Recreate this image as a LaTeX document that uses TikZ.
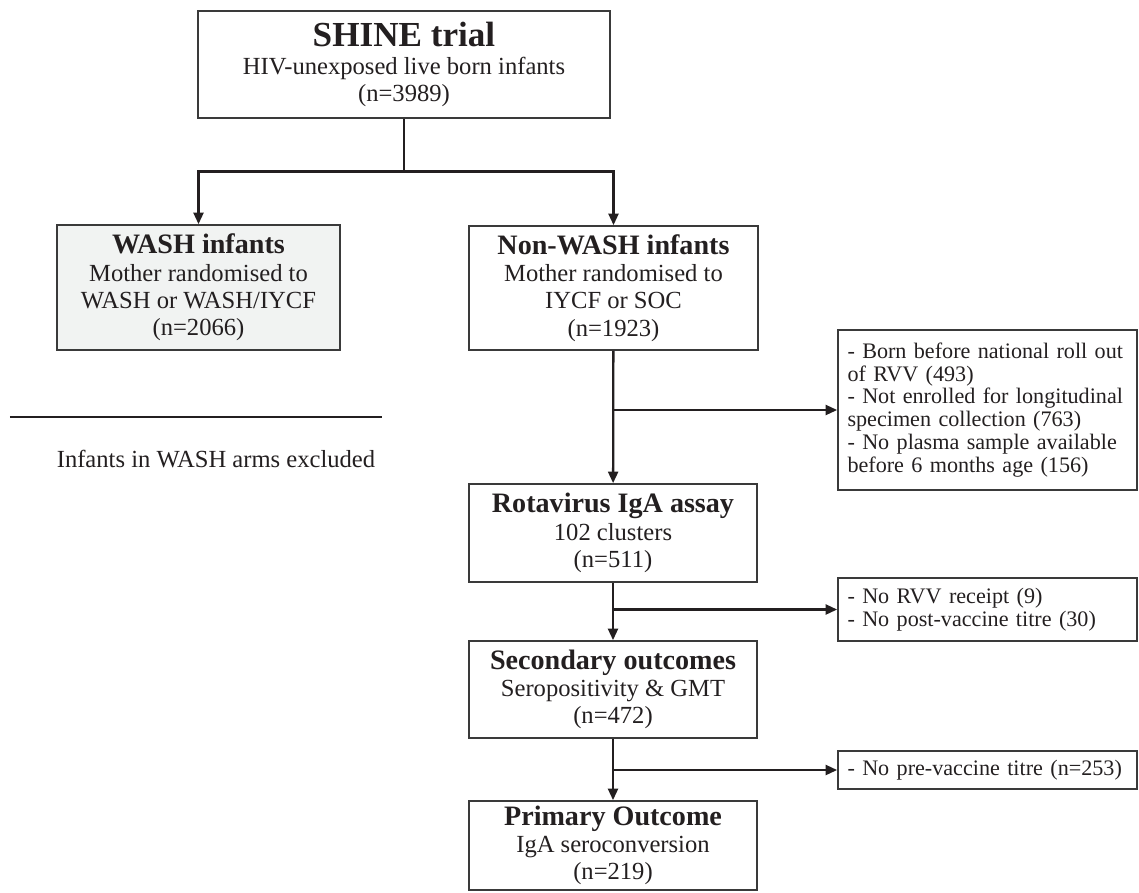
\documentclass[tikz,border=0pt]{standalone}
\usepackage{fontspec}
\setmainfont{Liberation Serif}
\usetikzlibrary{arrows.meta,positioning,calc}
\definecolor{ink}{HTML}{231F20}
\definecolor{boxline}{HTML}{3A3A3A}
\definecolor{washfill}{HTML}{F1F3F2}
\newcommand{\boxtitle}[1]{{\fontsize{16}{17}\selectfont\bfseries #1}}
\tikzset{flowbox/.style={draw=boxline,line width=1pt,text=ink,align=center,inner sep=0pt,minimum width=5.76cm,font=\fontsize{14}{15.5}\selectfont},exclbox/.style={draw=boxline,line width=1pt,text=ink,align=left,text width=5.6cm,inner xsep=0.19cm,inner ysep=0pt,font=\fontsize{12.6}{13}\selectfont},flowarr/.style={-{Triangle[length=2.3mm,width=2mm]},line width=1.3pt,draw=ink},flowline/.style={line width=1.3pt,draw=ink}}
\begin{document}
\begin{tikzpicture}
\useasboundingbox (0,0) rectangle (22.78,-17.84);
\node[flowbox,minimum width=8.24cm,minimum height=2.14cm] (shine) at (8.08,-1.29) {{\fontsize{20}{22}\selectfont\bfseries SHINE trial}\\HIV-unexposed live born infants\\(n=3989)};
\node[flowbox,fill=washfill,minimum width=5.66cm,minimum height=2.5cm] (wash) at (3.97,-5.75) {\boxtitle{WASH infants}\\Mother randomised to\\WASH or WASH/IYCF\\(n=2066)};
\node[flowbox,minimum width=5.78cm,minimum height=2.48cm] (nonwash) at (12.27,-5.76) {\boxtitle{Non-WASH infants}\\Mother randomised to\\IYCF or SOC\\(n=1923)};
\coordinate (split) at (8.08,-3.43);
\draw[flowline] (shine.south) -- (split);
\draw[flowarr] (split) -| (wash.north);
\draw[flowarr] (split) -| (nonwash.north);
% WASH arms are left out
\coordinate (rulel) at (0.2,-8.34);
\coordinate (ruler) at (7.64,-8.34);
\draw[draw=ink,line width=0.8pt] (rulel) -- (ruler);
\node[text=ink,font=\fontsize{14}{15}\selectfont] (washout) at (4.32,-9.18) {Infants in WASH arms excluded};
% main column
\node[flowbox,minimum height=1.96cm] (rota) at (12.26,-10.66) {\boxtitle{Rotavirus IgA assay}\\102 clusters\\(n=511)};
\node[flowbox,minimum height=1.94cm] (second) at (12.26,-13.79) {\boxtitle{Secondary outcomes}\\Seropositivity \& GMT\\(n=472)};
\node[flowbox,minimum height=1.78cm] (primary) at (12.26,-16.91) {\boxtitle{Primary Outcome}\\IgA seroconversion\\(n=219)};
% exclusions
\node[exclbox,minimum height=3.2cm] (excl1) at (19.75,-8.2) {- Born before national roll out\\of RVV (493)\\- Not enrolled for longitudinal\\specimen collection (763)\\- No plasma sample available\\before 6 months age (156)};
\node[exclbox,minimum height=1.26cm] (excl2) at (19.75,-12.19) {- No RVV receipt (9)\\- No post-vaccine titre (30)};
\node[exclbox,minimum height=0.76cm] (excl3) at (19.75,-15.4) {- No pre-vaccine titre (n=253)};
\draw[flowarr] (nonwash) -- (rota);
\draw[flowarr] (rota) -- (second);
\draw[flowarr] (second) -- (primary);
\draw[flowarr] (nonwash.south |- excl1.west) -- (excl1.west);
\draw[flowarr] (rota.south |- excl2.west) -- (excl2.west);
\draw[flowarr] (second.south |- excl3.west) -- (excl3.west);
\end{tikzpicture}
\end{document}
